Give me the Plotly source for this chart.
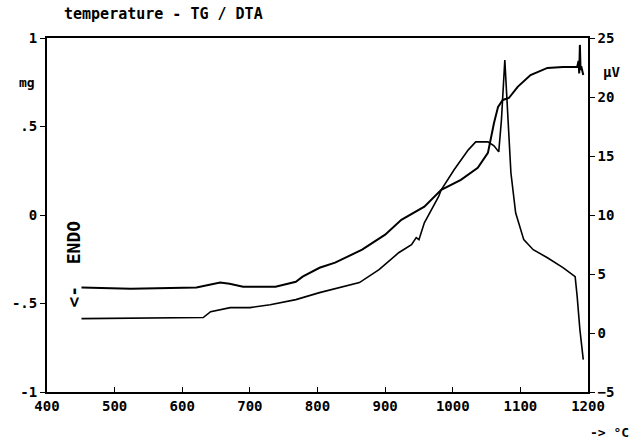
import plotly.graph_objects as go

# Curve 1 (TG, left axis, mg)
tg_temp = [451, 524, 621, 643, 656, 670, 690, 738, 768, 778, 803, 826, 866, 900, 924, 958,
           983, 1012, 1037, 1052, 1061, 1067, 1074, 1083, 1096, 1115, 1140, 1163, 1184,
           1186, 1187, 1188, 1189, 1190, 1193]
tg_mg = [-0.410, -0.416, -0.410, -0.395, -0.382, -0.388, -0.405, -0.405, -0.377, -0.348,
         -0.298, -0.269, -0.196, -0.111, -0.027, 0.047, 0.142, 0.199, 0.267, 0.351, 0.520,
         0.611, 0.650, 0.661, 0.724, 0.791, 0.831, 0.836, 0.836, 0.870, 0.80, 0.961, 0.819,
         0.84, 0.791]

# Curve 2 (DTA, right axis, µV)
dta_temp = [451, 573, 631, 642, 671, 700, 730, 768, 803, 862, 891, 920, 939, 946, 950, 958,
            979, 983, 1002, 1023, 1034, 1052, 1061, 1068, 1072, 1077, 1081, 1086, 1093,
            1105, 1119, 1140, 1163, 1181, 1184, 1188, 1193]
dta_uv = [1.22, 1.31, 1.31, 1.81, 2.15, 2.15, 2.40, 2.83, 3.42, 4.27, 5.37, 6.80, 7.48, 8.08,
          7.91, 9.34, 11.55, 12.14, 13.83, 15.52, 16.20, 16.20, 15.86, 15.35, 18.06, 23.14,
          19.16, 13.58, 10.19, 7.91, 7.06, 6.38, 5.54, 4.78, 3.08, 0.29, -2.25]

x_ticks = [400, 500, 600, 700, 800, 900, 1000, 1100, 1200]
y_ticks = [-1, -0.5, 0, 0.5, 1]
y_ticktext = ["-1", "-.5", "0", ".5", "1"]
y2_ticks = [-5, 0, 5, 10, 15, 20, 25]

FONT = "DejaVu Sans Mono"
tf = dict(family=FONT, size=14, color="black", weight="bold")

fig = go.Figure()
fig.add_trace(go.Scatter(x=tg_temp, y=tg_mg, mode="lines",
                         line=dict(color="black", width=2), yaxis="y", showlegend=False))
fig.add_trace(go.Scatter(x=dta_temp, y=dta_uv, mode="lines",
                         line=dict(color="black", width=1.6), yaxis="y2", showlegend=False))

fig.update_layout(
    width=632, height=442,
    margin=dict(l=42, r=44, t=38, b=50),
    paper_bgcolor="white", plot_bgcolor="white",
    xaxis=dict(range=[400, 1200], tickvals=x_ticks, ticks="inside", ticklen=5,
               tickcolor="black", showline=True, linecolor="black", linewidth=2,
               mirror=True, showgrid=False, zeroline=False, tickfont=tf),
    yaxis=dict(range=[-1, 1], tickvals=y_ticks, ticktext=y_ticktext, ticks="outside",
               ticklen=5, tickcolor="black", showline=True, linecolor="black",
               linewidth=2, showgrid=False, zeroline=False, tickfont=tf),
    yaxis2=dict(range=[-5, 25], tickvals=y2_ticks, overlaying="y", side="right",
                ticks="outside", ticklen=5, tickcolor="black", showline=True,
                linecolor="black", linewidth=1.5, showgrid=False, zeroline=False,
                tickfont=tf),
)

def font(size):
    return dict(family=FONT, size=size, color="black", weight="bold")

ann = dict(xref="paper", yref="paper", showarrow=False, xanchor="center", yanchor="middle")
fig.add_annotation(text="temperature - TG / DTA", x=0.216, y=1.068, font=font(15), **ann)
fig.add_annotation(text="mg", x=-0.037, y=0.873, font=font(13), **ann)
fig.add_annotation(text="µV", x=1.044, y=0.904, font=font(14), **ann)
fig.add_annotation(text="-> °C", x=1.04, y=-0.113, font=font(13), **ann)
fig.add_annotation(text="<-  ENDO", x=0.05, y=0.36, textangle=-90, font=font(18), **ann)

fig.write_html("out.html")
